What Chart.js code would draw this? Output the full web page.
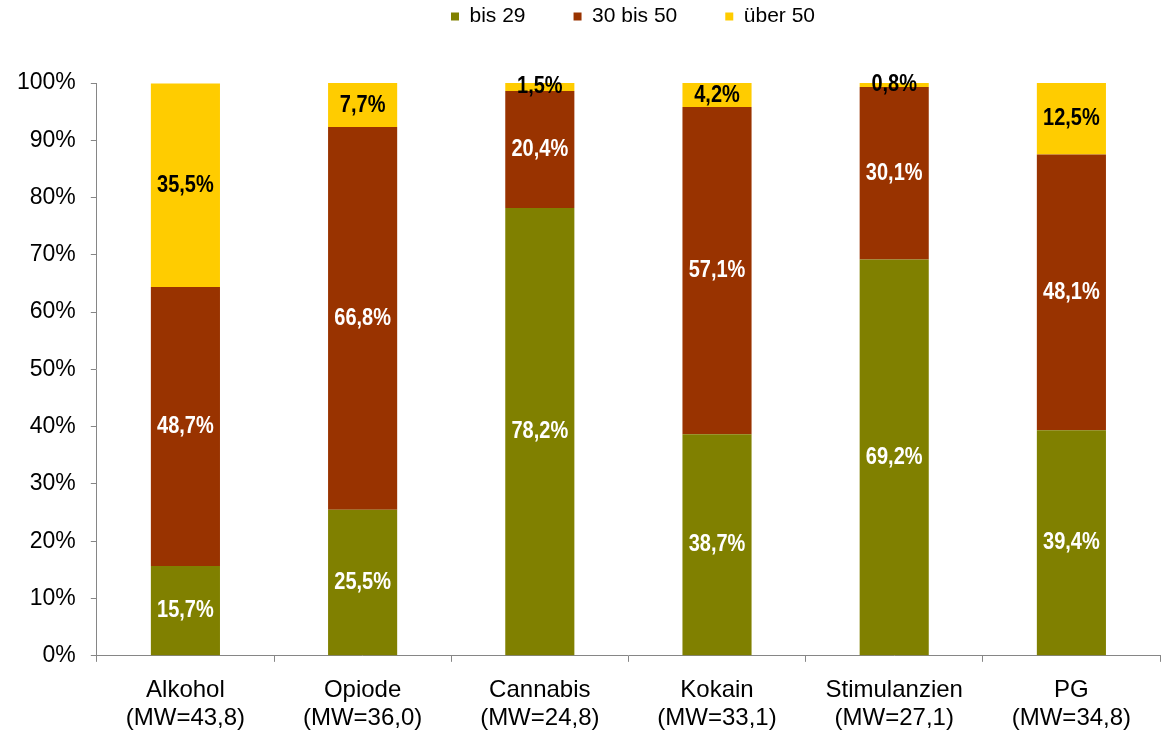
<!DOCTYPE html>
<html>
<head>
<meta charset="utf-8">
<script src="https://cdn.jsdelivr.net/npm/chart.js@4/dist/chart.umd.min.js"></script>
<style>
  html, body { margin: 0; padding: 0; background: #fff; }
  #wrap { width: 1161px; height: 731px; }
</style>
</head>
<body>
<div id="wrap"><canvas id="chart"></canvas></div>
<script>
const categories = [
  ['Alkohol', '(MW=43,8)'],
  ['Opiode', '(MW=36,0)'],
  ['Cannabis', '(MW=24,8)'],
  ['Kokain', '(MW=33,1)'],
  ['Stimulanzien', '(MW=27,1)'],
  ['PG', '(MW=34,8)']
];
const seriesNames = ['bis 29', '30 bis 50', 'über 50'];
const bis29 = [15.7, 25.5, 78.2, 38.7, 69.2, 39.4];
const von30bis50 = [48.7, 66.8, 20.4, 57.1, 30.1, 48.1];
const ueber50 = [35.5, 7.7, 1.5, 4.2, 0.8, 12.5];
const colors = ['#808000', '#993300', '#FFCC00'];
const labelColors = ['#ffffff', '#ffffff', '#000000'];

const axisGrey = '#868686';
const fontFamily = '"Liberation Sans", Arial, sans-serif';

// labels in the middle of each segment (bold, a bit taller than wide like the original)
const segmentLabels = {
  id: 'segmentLabels',
  afterDatasetsDraw(chart) {
    const ctx = chart.ctx;
    const stretch = 1.2;
    chart.data.datasets.forEach((ds, i) => {
      const meta = chart.getDatasetMeta(i);
      meta.data.forEach((bar, j) => {
        const v = ds.data[j];
        const y = (bar.y + bar.base) / 2;
        ctx.save();
        ctx.translate(bar.x, y);
        ctx.scale(1, stretch);
        ctx.font = 'bold 20px ' + fontFamily;
        ctx.textAlign = 'center';
        ctx.textBaseline = 'middle';
        ctx.fillStyle = labelColors[i];
        ctx.fillText(v.toFixed(1).replace('.', ',') + '%', 0, 0);
        ctx.restore();
      });
    });
  }
};

// legend sits high above the plot and is centred over the plot area, not the canvas
const legendSpace = {
  id: 'legendSpace',
  beforeInit(chart) {
    const fit = chart.legend.fit;
    chart.legend.fit = function () {
      fit.call(this);
      this.height = 125;
    };
  },
  afterLayout(chart) {
    chart.legend.left += 52;
    chart.legend.right += 52;
  }
};

new Chart(document.getElementById('chart'), {
  type: 'bar',
  data: {
    labels: categories,
    datasets: [
      { label: seriesNames[0], data: bis29, backgroundColor: colors[0] },
      { label: seriesNames[1], data: von30bis50, backgroundColor: colors[1] },
      { label: seriesNames[2], data: ueber50, backgroundColor: colors[2] }
    ]
  },
  options: {
    responsive: true,
    maintainAspectRatio: false,
    animation: false,
    barPercentage: 0.39,
    categoryPercentage: 1,
    layout: { padding: { left: 2, right: 1, top: -42, bottom: -15 } },
    plugins: {
      legend: {
        position: 'top',
        labels: {
          color: '#000',
          font: { family: fontFamily, size: 21 },
          boxWidth: 8,
          boxHeight: 8,
          padding: 48
        }
      },
      tooltip: { enabled: false }
    },
    scales: {
      x: {
        stacked: true,
        grid: { drawOnChartArea: false, drawTicks: true, tickLength: 6, color: axisGrey, offset: true },
        border: { display: true, color: axisGrey, width: 1 },
        ticks: {
          color: '#000',
          padding: 14,
          maxRotation: 0,
          font: { family: fontFamily, size: 24, lineHeight: 1.17 }
        }
      },
      y: {
        stacked: true,
        min: 0,
        max: 100,
        grid: { drawOnChartArea: false, drawTicks: true, tickLength: 6, color: axisGrey },
        border: { display: true, color: axisGrey, width: 1 },
        ticks: {
          stepSize: 10,
          color: '#000',
          padding: 15,
          font: { family: fontFamily, size: 23 },
          callback: v => v + '%'
        }
      }
    }
  },
  plugins: [segmentLabels, legendSpace]
});
</script>
</body>
</html>
